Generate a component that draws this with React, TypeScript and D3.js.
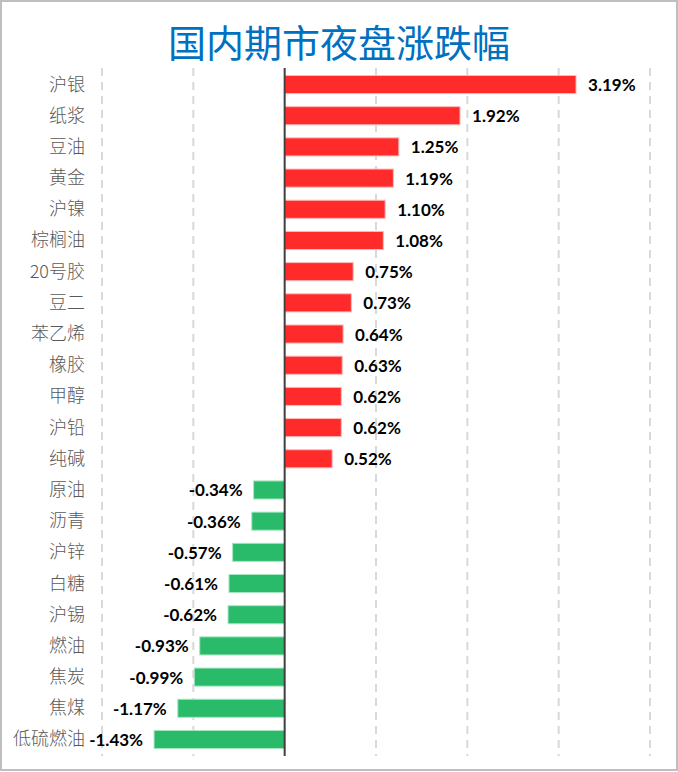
import React from "react";
import * as d3 from "d3";

const categories = ["沪银", "纸浆", "豆油", "黄金", "沪镍", "棕榈油", "20号胶", "豆二", "苯乙烯", "橡胶", "甲醇", "沪铅", "纯碱", "原油", "沥青", "沪锌", "白糖", "沪锡", "燃油", "焦炭", "焦煤", "低硫燃油"];
const values = [3.19, 1.92, 1.25, 1.19, 1.10, 1.08, 0.75, 0.73, 0.64, 0.63, 0.62, 0.62, 0.52, -0.34, -0.36, -0.57, -0.61, -0.62, -0.93, -0.99, -1.17, -1.43];
const tickValues = [-2, -1, 0, 1, 2, 3, 4];
const title = "国内期市夜盘涨跌幅";

const W = 678;
const H = 772;

export default function App() {
  const x = d3.scaleLinear().domain([-2, 4]).range([102, 650]);
  const y = d3.scaleBand<string>().domain(categories).range([68, 756]).paddingInner(0.42).paddingOuter(0.24);
  const x0 = x(0);
  const bh = y.bandwidth();
  return (
    <div style={{ position: "fixed", left: 0, top: 0 }}>
      <svg width={W} height={H} style={{ display: "block", background: "#fff" }}>
        <rect x={1} y={1} width={W - 2} height={H - 3} fill="#fff" stroke="#bfbfbf" strokeWidth={2} />
        <text x={W / 2} y={57} textAnchor="middle" fill="#0070c0" fontSize={38} fontFamily="'Noto Sans CJK SC', sans-serif" fontWeight={400}>{title}</text>
        {tickValues.filter(t => t !== 0).map(t => (
          <line key={t} x1={x(t)} x2={x(t)} y1={68} y2={756} stroke="#d9d9d9" strokeWidth={2} strokeDasharray="8,6" />
        ))}
        {categories.map((c, i) => {
          const v = values[i];
          const yc = (y(c) as number);
          const pos = v >= 0;
          const bx = pos ? x0 : x(v);
          const bw = Math.abs(x(v) - x0);
          return (
            <g key={c}>
              <rect x={bx} y={yc} width={bw} height={bh} fill={pos ? "#ff2a2a" : "#2abb6a"} stroke={pos ? "#ffb8b8" : "#a8e6c3"} strokeWidth={1} />
              <text x={pos ? x(v) + 12 : x(v) - 11} y={yc + bh / 2 + 6.5} textAnchor={pos ? "start" : "end"} fontFamily="Lato, 'Open Sans', sans-serif" fontWeight={700} fontSize={17} fill="#000">{v.toFixed(2) + "%"}</text>
              <text x={85} y={yc + bh / 2 + 6} textAnchor="end" fontFamily="'Noto Sans CJK SC', sans-serif" fontWeight={300} fontSize={18} fill="#595959">{c}</text>
            </g>
          );
        })}
        <line x1={x0} x2={x0} y1={68} y2={756} stroke="#404040" strokeWidth={2} />
      </svg>
    </div>
  );
}
